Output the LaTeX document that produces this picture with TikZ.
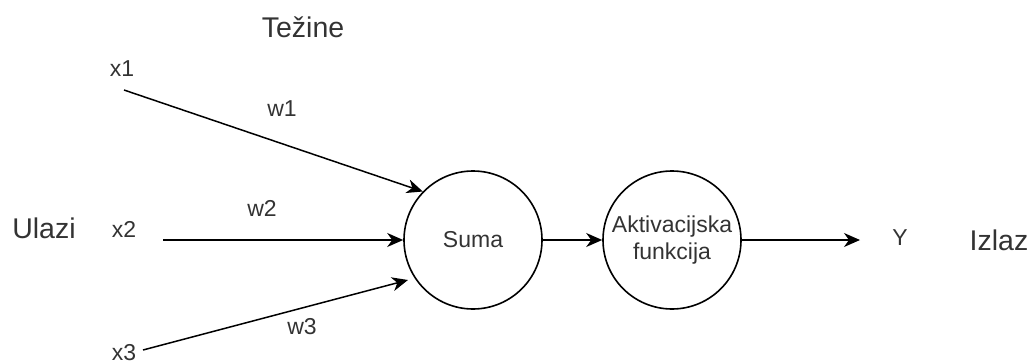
\documentclass[tikz,border=0pt]{standalone}
\usepackage{fontspec}
\setmainfont{Liberation Sans}
\usetikzlibrary{arrows.meta}
\definecolor{txt}{HTML}{333333}
\tikzset{
  lbl/.style={text=txt, font=\fontsize{23}{27}\selectfont, inner sep=0pt},
  biglbl/.style={text=txt, font=\fontsize{28.5}{32}\selectfont, inner sep=0pt},
  neuron/.style={circle, draw=black, line width=1.6pt, minimum size=138pt, inner sep=0pt, align=center, text=txt, font=\fontsize{23}{27}\selectfont},
  conn/.style={line width=1.5pt, -{Stealth[length=16pt, width=14pt, inset=5pt]}}
}
\begin{document}
\begin{tikzpicture}[x=1pt, y=-1pt]
\useasboundingbox (0,0) rectangle (1031,361);
% labels
\node[biglbl] (tezine) at (303,27) {Težine};
\node[biglbl] (ulazi) at (44,228) {Ulazi};
\node[biglbl] (izlaz) at (999,240) {Izlaz};
\node[lbl] (x1) at (122,69) {x1};
\node[lbl] (x2) at (124,229) {x2};
\node[lbl] (x3) at (124,353) {x3};
\node[lbl] (w1) at (282,109) {w1};
\node[lbl] (w2) at (262,208) {w2};
\node[lbl] (w3) at (302,327) {w3};
\node[lbl] (y) at (900,238) {Y};
% neurons
\node[neuron] (suma) at (473,240) {Suma};
\node[neuron] (akt) at (672,240) {Aktivacijska\\funkcija};
% connector end points
\coordinate (s1) at (124,90);
\coordinate (s2) at (163,240);
\coordinate (s3) at (143,350);
\coordinate (e3) at (408,280);
\coordinate (yend) at (860,240);
% connectors
\draw[conn] (s1) -- (suma.136);
\draw[conn] (s2) -- (suma.west);
\draw[conn] (s3) -- (e3);
\draw[conn] (suma.east) -- (akt.west);
\draw[conn] (akt.east) -- (yend);
\end{tikzpicture}
\end{document}
